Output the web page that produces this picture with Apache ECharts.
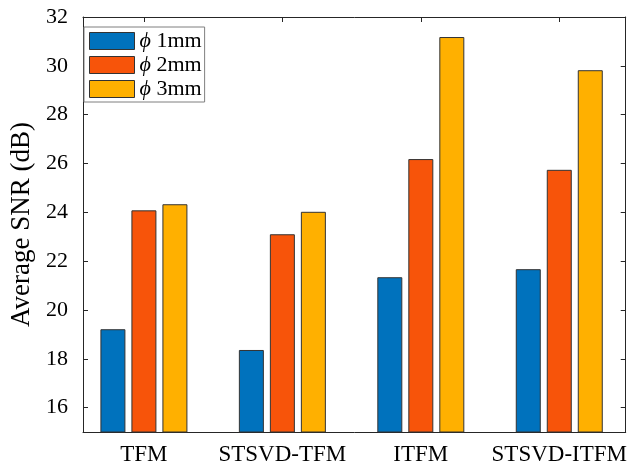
<!DOCTYPE html>
<html><head><meta charset="utf-8">
<script src="https://cdn.jsdelivr.net/npm/echarts@6/dist/echarts.min.js"></script>
<style>html,body{margin:0;padding:0;background:#fff}#c{width:630px;height:466px}</style>
</head><body><div id="c"></div>
<script>
const categories = ['TFM', 'STSVD-TFM', 'ITFM', 'STSVD-ITFM'];
const seriesNames = ['ϕ 1mm', 'ϕ 2mm', 'ϕ 3mm'];
const snr1mm = [19.21, 18.36, 21.34, 21.67];
const snr2mm = [24.08, 23.10, 26.18, 25.74];
const snr3mm = [24.33, 24.02, 31.18, 29.82];
const yTicks = [16, 18, 20, 22, 24, 26, 28, 30, 32];
const colors = ['#0072BD', '#F7540A', '#FFB000'];

const font = 'Liberation Serif, Times New Roman, serif';
const axisColor = '#262626';
const chart = echarts.init(document.getElementById('c'));
const values = [snr1mm, snr2mm, snr3mm];
const catPos = categories.map((c, i) => i + 1);
chart.setOption({
  animation: false,
  textStyle: { fontFamily: font },
  grid: { left: 83, right: 1, top: 17, bottom: 34 },
  legend: {
    left: 84, top: 27, orient: 'vertical',
    icon: 'rect',
    itemWidth: 45, itemHeight: 17, itemGap: 2,
    padding: [3, 3, 2, 5],
    borderColor: '#7f7f7f', borderWidth: 1, backgroundColor: '#fff',
    data: seriesNames,
    formatter: n => '{i|ϕ} ' + n.split(' ')[1],
    textStyle: {
      fontFamily: font, fontSize: 22, color: '#000',
      rich: { i: { fontFamily: font, fontStyle: 'italic', fontSize: 22, color: '#000' } }
    },
    itemStyle: { borderColor: '#333', borderWidth: 1 }
  },
  xAxis: [{
    type: 'value', min: 0.56, max: 4.48, position: 'bottom',
    axisLine: { show: true, lineStyle: { color: axisColor, width: 1 } },
    axisTick: { show: true, inside: true, length: 5, customValues: catPos, lineStyle: { color: axisColor } },
    axisLabel: { fontFamily: font, fontSize: 23, color: '#000', margin: 11, customValues: catPos,
      formatter: v => categories[Math.round(v) - 1] },
    splitLine: { show: false }
  }, {
    type: 'value', min: 0.56, max: 4.48, position: 'top',
    axisLine: { show: true, lineStyle: { color: axisColor, width: 1 } },
    axisTick: { show: true, inside: true, length: 5, customValues: catPos, lineStyle: { color: axisColor } },
    axisLabel: { show: false }, splitLine: { show: false }
  }],
  yAxis: [{
    type: 'value', min: 15, max: 32, position: 'left',
    name: 'Average SNR (dB)', nameLocation: 'middle', nameGap: 43, nameRotate: 90,
    nameTextStyle: { fontFamily: font, fontSize: 27, color: '#000' },
    axisLine: { show: true, lineStyle: { color: axisColor, width: 1 } },
    axisTick: { show: true, inside: true, length: 5, customValues: yTicks, lineStyle: { color: axisColor } },
    axisLabel: { fontFamily: font, fontSize: 22, color: '#000', margin: 15, customValues: yTicks },
    splitLine: { show: false }
  }, {
    type: 'value', min: 15, max: 32, position: 'right',
    axisLine: { show: true, lineStyle: { color: axisColor, width: 1 } },
    axisTick: { show: true, inside: true, length: 5, customValues: yTicks, lineStyle: { color: axisColor } },
    axisLabel: { show: false }, splitLine: { show: false }
  }],
  series: seriesNames.map((n, i) => ({
    name: n, type: 'bar', data: values[i].map((v, j) => [catPos[j], v]),
    xAxisIndex: 0, yAxisIndex: 0,
    barWidth: 25, barGap: '24%',
    itemStyle: { color: colors[i], borderColor: '#333', borderWidth: 1 }
  }))
});
</script></body></html>
